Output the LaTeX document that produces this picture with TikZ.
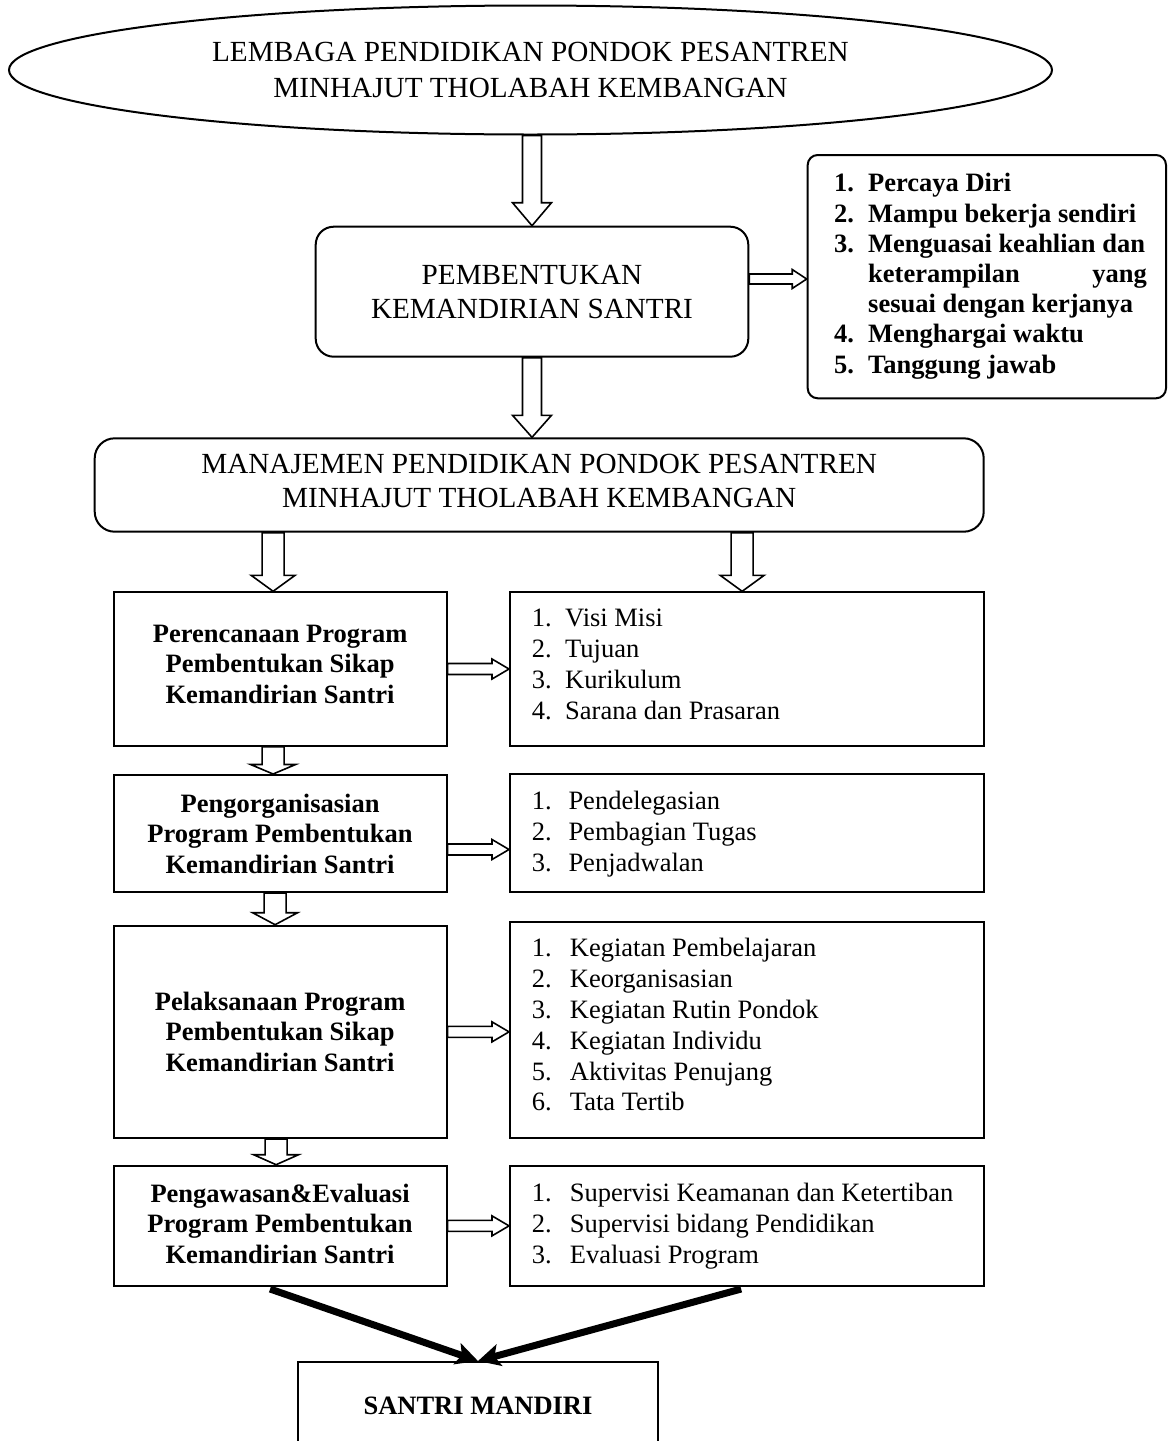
\documentclass[tikz,border=0pt]{standalone}
\usepackage{fontspec}
\setmainfont{Liberation Serif}
\usetikzlibrary{shapes.geometric,arrows.meta,calc}

\newcommand{\li}[3]{\makebox[#1][l]{#2}#3\strut}
% vertical hollow block arrow: start, tip, shaft half width, head half width, head length
\newcommand{\varr}[5]{\draw[blk] ($(#1)+(-#3,0)$) -- ($(#2)+(-#3,-#5)$) -- ($(#2)+(-#4,-#5)$) -- (#2) -- ($(#2)+(#4,-#5)$) -- ($(#2)+(#3,-#5)$) -- ($(#1)+(#3,0)$) -- cycle;}
% horizontal hollow block arrow
\newcommand{\harr}[5]{\draw[blk] ($(#1)+(0,-#3)$) -- ($(#2)+(-#5,-#3)$) -- ($(#2)+(-#5,-#4)$) -- (#2) -- ($(#2)+(-#5,#4)$) -- ($(#2)+(-#5,#3)$) -- ($(#1)+(0,#3)$) -- cycle;}

\tikzset{
  box/.style={draw, line width=2pt, inner sep=0pt},
  head/.style={font=\fontsize{29.2}{34}\selectfont, align=center},
  bodyb/.style={font=\fontsize{26.5}{30.5}\selectfont\bfseries, align=center},
  lst/.style={font=\fontsize{26.5}{30.8}\selectfont, align=left, anchor=north west, inner sep=0pt},
  blk/.style={draw, line width=1.6pt, line join=miter},
  bigarrow/.style={line width=7pt, -{Stealth[length=22pt,width=22pt,inset=5pt]}},
}

\begin{document}
\begin{tikzpicture}[x=1pt,y=-1pt]
\path[use as bounding box, fill=white] (0,0) rectangle (1168,1441);

% top ellipse
\node[ellipse, box, minimum width=1043pt, minimum height=129pt, head,
      font=\fontsize{29.2}{36.7}\selectfont] (e) at (530.5,70)
  {LEMBAGA PENDIDIKAN PONDOK PESANTREN\\MINHAJUT THOLABAH KEMBANGAN};

% pembentukan
\node[box, rounded corners=18pt, minimum width=432.6pt, minimum height=130pt, head] (b2) at (532,291.7)
  {PEMBENTUKAN\\KEMANDIRIAN SANTRI};

% list of characteristics
\node[box, rounded corners=10pt, minimum width=358.3pt, minimum height=243.3pt] (lb) at (986.85,276.65) {};
\node[lst, font=\fontsize{26.5}{30.2}\selectfont\bfseries] (lt) at (834,170.6)
  {\li{34pt}{1.}{Percaya Diri}\\
   \li{34pt}{2.}{Mampu bekerja sendiri}\\
   \li{34pt}{3.}{Menguasai keahlian dan}\\
   \hspace*{34pt}\makebox[278.7pt][s]{keterampilan\hfill yang}\strut\\
   \hspace*{34pt}sesuai dengan kerjanya\strut\\
   \li{34pt}{4.}{Menghargai waktu}\\
   \li{34pt}{5.}{Tanggung jawab}};

% manajemen
\node[box, rounded corners=20pt, minimum width=889pt, minimum height=93.4pt, head] (b3) at (539.2,485)
  {MANAJEMEN PENDIDIKAN PONDOK PESANTREN\\MINHAJUT THOLABAH KEMBANGAN\rule[-9pt]{0pt}{9pt}};

% row 1
\node[box, minimum width=332.8pt, minimum height=153.4pt, bodyb] (r1l) at (280.1,669)
  {Perencanaan Program\\Pembentukan Sikap\\Kemandirian Santri\rule[-9.4pt]{0pt}{9.4pt}};
\node[box, minimum width=474.3pt, minimum height=153.4pt] (r1r) at (747.15,669) {};
\node[lst] (r1t) at (531.7,605.1)
  {\li{33.3pt}{1.}{Visi Misi}\\\li{33.3pt}{2.}{Tujuan}\\\li{33.3pt}{3.}{Kurikulum}\\\li{33.3pt}{4.}{Sarana dan Prasaran}};

% row 2
\node[box, minimum width=332.8pt, minimum height=117pt, bodyb] (r2l) at (280.1,833.5)
  {Pengorganisasian\\Program Pembentukan\\Kemandirian Santri};
\node[box, minimum width=474.3pt, minimum height=118.3pt] (r2r) at (747.15,833.15) {};
\node[lst] (r2t) at (531.7,787.7)
  {\li{36.6pt}{1.}{Pendelegasian}\\\li{36.6pt}{2.}{Pembagian Tugas}\\\li{36.6pt}{3.}{Penjadwalan}};

% row 3
\node[box, minimum width=332.8pt, minimum height=212.3pt, bodyb] (r3l) at (280.1,1031.85)
  {Pelaksanaan Program\\Pembentukan Sikap\\Kemandirian Santri};
\node[box, minimum width=474.3pt, minimum height=216.3pt] (r3r) at (747.15,1029.85) {};
\node[lst] (r3t) at (531.7,935.1)
  {\li{38pt}{1.}{Kegiatan Pembelajaran}\\\li{38pt}{2.}{Keorganisasian}\\\li{38pt}{3.}{Kegiatan Rutin Pondok}\\
   \li{38pt}{4.}{Kegiatan Individu}\\\li{38pt}{5.}{Aktivitas Penujang}\\\li{38pt}{6.}{Tata Tertib}};

% row 4
\node[box, minimum width=332.8pt, minimum height=120.3pt, bodyb] (r4l) at (280.1,1225.85)
  {Pengawasan\&Evaluasi\\Program Pembentukan\\Kemandirian Santri\rule[-5pt]{0pt}{5pt}};
\node[box, minimum width=474.3pt, minimum height=120.3pt] (r4r) at (747.15,1225.85) {};
\node[lst] (r4t) at (531.7,1180.1)
  {\li{38pt}{1.}{Supervisi Keamanan dan Ketertiban}\\\li{38pt}{2.}{Supervisi bidang Pendidikan}\\\li{38pt}{3.}{Evaluasi Program}};

% final
\node[box, minimum width=360pt, minimum height=88pt, font=\fontsize{26.5}{30}\selectfont\bfseries] (fin) at (478,1406)
  {SANTRI MANDIRI};

% hollow block arrows
\coordinate (a1s) at (b2.north |- e.south);      \coordinate (a1t) at (b2.north);
\varr{a1s}{a1t}{9.5}{19.5}{23}
\coordinate (a2s) at (b2.south);                 \coordinate (a2t) at (b2.south |- b3.north);
\varr{a2s}{a2t}{9.5}{19.5}{22}
\coordinate (a3s) at ($(b2.east)+(0,-12.7)$);    \coordinate (a3t) at (lb.west |- a3s);
\harr{a3s}{a3t}{5}{9.5}{14.5}
\coordinate (a4t) at ($(r1l.north)+(-7,0)$);     \coordinate (a4s) at (a4t |- b3.south);
\varr{a4s}{a4t}{11}{22}{16}
\coordinate (a5t) at ($(r1r.north)+(-5,0)$);     \coordinate (a5s) at (a5t |- b3.south);
\varr{a5s}{a5t}{11}{22}{16}
\coordinate (a6s) at ($(r1l.south)+(-7,0)$);     \coordinate (a6t) at (a6s |- r2l.north);
\varr{a6s}{a6t}{11}{22.5}{9.5}
\coordinate (a7s) at ($(r2l.south)+(-5,0)$);     \coordinate (a7t) at (a7s |- r3l.north);
\varr{a7s}{a7t}{11}{22.5}{12}
\coordinate (a8s) at ($(r3l.south)+(-4,0)$);     \coordinate (a8t) at (a8s |- r4l.north);
\varr{a8s}{a8t}{11}{22.5}{10}

\coordinate (h1s) at (r1l.east);                 \coordinate (h1t) at (r1r.west |- h1s);
\harr{h1s}{h1t}{5.5}{10}{17}
\coordinate (h2s) at ($(r2l.east)+(0,16)$);      \coordinate (h2t) at (r2r.west |- h2s);
\harr{h2s}{h2t}{5.5}{10}{17}
\coordinate (h3s) at (r3l.east);                 \coordinate (h3t) at (r3r.west |- h3s);
\harr{h3s}{h3t}{5.5}{10}{17}
\coordinate (h4s) at (r4l.east);                 \coordinate (h4t) at (r4r.west |- h4s);
\harr{h4s}{h4t}{5.5}{10}{17}

% thick arrows to final
\draw[bigarrow] ($(r4l.south)+(-10,2)$) -- (fin.north);
\draw[bigarrow] ($(r4r.south)+(-6,2)$) -- (fin.north);
\end{tikzpicture}
\end{document}
